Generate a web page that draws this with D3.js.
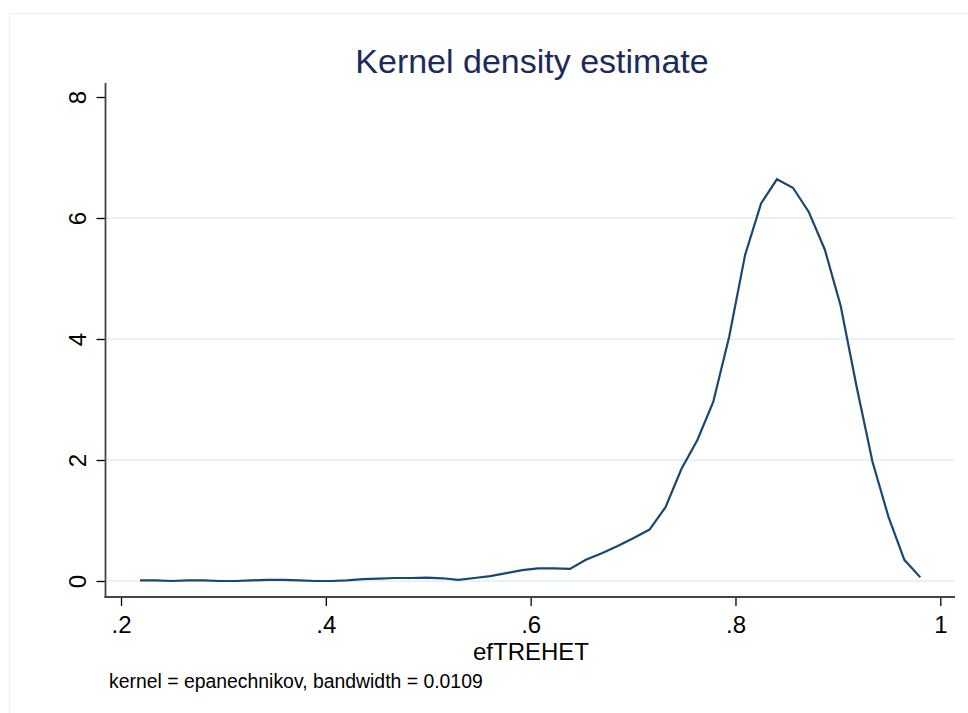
<!DOCTYPE html>
<html>
<head>
<meta charset="utf-8">
<script src="https://cdn.jsdelivr.net/npm/d3@7"></script>
<style>
  html, body { margin: 0; padding: 0; background: #fff; }
  svg { display: block; }
  text { font-family: "Liberation Sans", Arial, Helvetica, sans-serif; }
</style>
</head>
<body>
<svg id="chart" width="968" height="713"></svg>
<script>
// ---- data ----
const title = "Kernel density estimate";
const xLabel = "efTREHET";
const note = "kernel = epanechnikov, bandwidth = 0.0109";

const gridX = [0.2185, 0.2341, 0.2496, 0.2652, 0.2807, 0.2963, 0.3118, 0.3274, 0.3429, 0.3585,
               0.3740, 0.3896, 0.4051, 0.4207, 0.4362, 0.4518, 0.4673, 0.4829, 0.4984, 0.5140,
               0.5295, 0.5451, 0.5606, 0.5762, 0.5917, 0.6073, 0.6228, 0.6384, 0.6539, 0.6695,
               0.6850, 0.7006, 0.7161, 0.7317, 0.7472, 0.7628, 0.7783, 0.7939, 0.8094, 0.8250,
               0.8405, 0.8561, 0.8716, 0.8872, 0.9027, 0.9183, 0.9338, 0.9494, 0.9649, 0.9805];
const density = [0.01, 0.01, 0.00, 0.01, 0.01, 0.00, 0.00, 0.01, 0.02, 0.02,
                 0.01, 0.00, 0.00, 0.01, 0.03, 0.04, 0.05, 0.05, 0.055, 0.045,
                 0.02, 0.05, 0.08, 0.13, 0.18, 0.21, 0.21, 0.20, 0.35, 0.46,
                 0.58, 0.71, 0.85, 1.22, 1.85, 2.33, 2.96, 4.04, 5.39, 6.24,
                 6.64, 6.50, 6.10, 5.48, 4.55, 3.21, 1.97, 1.06, 0.35, 0.06];

const xTicks = [0.2, 0.4, 0.6, 0.8, 1.0];
const xTickLabels = [".2", ".4", ".6", ".8", "1"];
const yTicks = [0, 2, 4, 6, 8];
const yTickLabels = ["0", "2", "4", "6", "8"];
const yGrid = [0, 2, 4, 6];

// ---- drawing ----
const svg = d3.select("#chart");

// outer graph region border
svg.append("rect")
  .attr("x", 9.5).attr("y", 13.5).attr("width", 1000).attr("height", 1000)
  .attr("fill", "#fff").attr("stroke", "#eceff1").attr("stroke-width", 1);

const x = d3.scaleLinear().domain([0.2, 1.0]).range([121, 940.3]);
const y = d3.scaleLinear().domain([0, 8]).range([581, 97]);

const plotLeft = 105.5, plotRight = 955, plotBottom = 597, plotTop = 83;

// gridlines
svg.append("g").selectAll("line").data(yGrid).join("line")
  .attr("x1", plotLeft + 1).attr("x2", plotRight)
  .attr("y1", d => y(d)).attr("y2", d => y(d))
  .attr("stroke", "#eaf2f3").attr("stroke-width", 2.2);

// x axis
const xAxis = d3.axisBottom(x)
  .tickValues(xTicks)
  .tickFormat((d, i) => xTickLabels[i])
  .tickSize(9).tickPadding(6).tickSizeOuter(0);
const gx = svg.append("g").attr("transform", `translate(0,${plotBottom})`).call(xAxis);
gx.select(".domain").remove();
gx.append("line").attr("x1", plotLeft - 1).attr("x2", plotRight)
  .attr("y1", 0).attr("y2", 0).attr("stroke", "#444").attr("stroke-width", 1.8);
gx.selectAll(".tick line").attr("stroke", "#000").attr("stroke-width", 1.3);
gx.selectAll(".tick text").attr("font-size", 24).attr("fill", "#000")
  .attr("font-family", "Liberation Sans, Arial, sans-serif")
  .attr("dy", null).attr("y", 36);

// y axis
const yAxis = d3.axisLeft(y)
  .tickValues(yTicks)
  .tickFormat((d, i) => yTickLabels[i])
  .tickSize(9).tickPadding(0).tickSizeOuter(0);
const gy = svg.append("g").attr("transform", `translate(${plotLeft},0)`).call(yAxis);
gy.select(".domain").remove();
gy.append("line").attr("x1", 0).attr("x2", 0)
  .attr("y1", plotTop).attr("y2", plotBottom + 1).attr("stroke", "#444").attr("stroke-width", 1.8);
gy.selectAll(".tick line").attr("stroke", "#000").attr("stroke-width", 1.3);
gy.selectAll(".tick text")
  .attr("font-size", 24).attr("fill", "#000")
  .attr("font-family", "Liberation Sans, Arial, sans-serif")
  .attr("x", null).attr("dy", null)
  .attr("text-anchor", "middle")
  .attr("transform", "translate(-19.5,0) rotate(-90)");

// density line
const line = d3.line().x((d, i) => x(gridX[i])).y(d => y(d));
svg.append("path").datum(density)
  .attr("d", line)
  .attr("fill", "none")
  .attr("stroke", "#1a476f")
  .attr("stroke-width", 2.2)
  .attr("stroke-linejoin", "miter");

// title
svg.append("text")
  .attr("x", 532).attr("y", 73)
  .attr("text-anchor", "middle")
  .attr("font-size", 34)
  .attr("fill", "#1c2b5a")
  .text(title);

// x axis title
svg.append("text")
  .attr("x", 531).attr("y", 660)
  .attr("text-anchor", "middle")
  .attr("font-size", 24)
  .attr("fill", "#000")
  .text(xLabel);

// note
svg.append("text")
  .attr("x", 109).attr("y", 688)
  .attr("font-size", 19.4)
  .attr("fill", "#000")
  .text(note);
</script>
</body>
</html>
